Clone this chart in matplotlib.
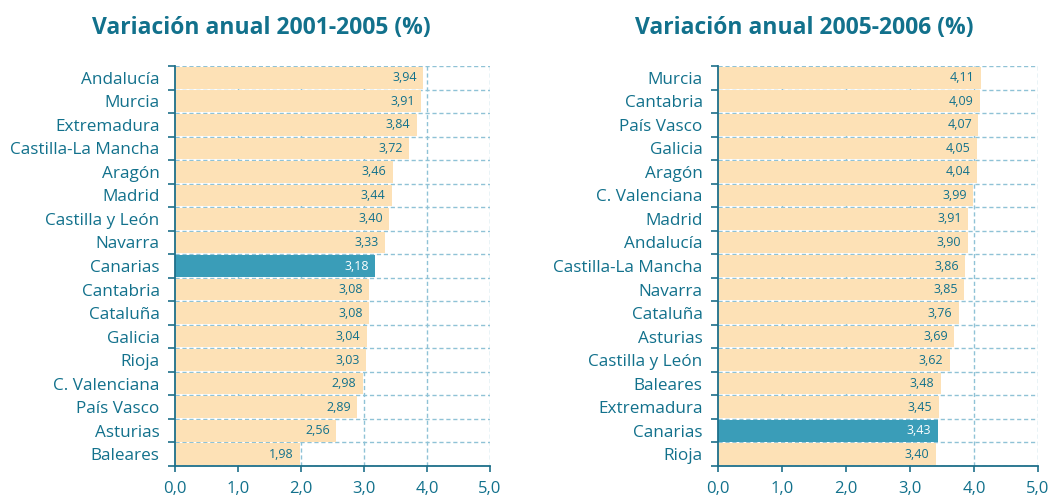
import matplotlib
matplotlib.use("Agg")
import matplotlib.pyplot as plt
import numpy as np

cats1 = ["Andalucía", "Murcia", "Extremadura", "Castilla-La Mancha", "Aragón", "Madrid",
         "Castilla y León", "Navarra", "Canarias", "Cantabria", "Cataluña", "Galicia",
         "Rioja", "C. Valenciana", "País Vasco", "Asturias", "Baleares"]
vals1 = [3.94, 3.91, 3.84, 3.72, 3.46, 3.44, 3.40, 3.33, 3.18, 3.08, 3.08, 3.04,
         3.03, 2.98, 2.89, 2.56, 1.98]
cats2 = ["Murcia", "Cantabria", "País Vasco", "Galicia", "Aragón", "C. Valenciana", "Madrid",
         "Andalucía", "Castilla-La Mancha", "Navarra", "Cataluña", "Asturias",
         "Castilla y León", "Baleares", "Extremadura", "Canarias", "Rioja"]
vals2 = [4.11, 4.09, 4.07, 4.05, 4.04, 3.99, 3.91, 3.90, 3.86, 3.85, 3.76, 3.69,
         3.62, 3.48, 3.45, 3.43, 3.40]
titles = ["Variación anual 2001-2005 (%)", "Variación anual 2005-2006 (%)"]
xticks = [0, 1, 2, 3, 4, 5]
highlight = "Canarias"

PEACH = "#FDE1B6"
HL = "#3A9DB8"
TEXT = "#12718C"
GRID = "#8FC2D6"
SPINE = "#1E6F8A"

plt.rcParams['font.family'] = ['Open Sans', 'DejaVu Sans']

fig = plt.figure(figsize=(10.49, 4.98), dpi=100)
H = 498.0
W = 1049.0
top_px, bot_px = 66, 466
axes_px = [(175, 490), (718, 1038)]
title_x = [261, 804]

for (l, r), cats, vals, title, tx in zip(axes_px, [cats1, cats2], [vals1, vals2], titles, title_x):
    ax = fig.add_axes([l / W, 1 - bot_px / H, (r - l) / W, (bot_px - top_px) / H])
    n = len(cats)
    y = np.arange(n)
    colors = [HL if c == highlight else PEACH for c in cats]
    ax.barh(y, vals, height=0.92, color=colors, zorder=2)
    ax.set_ylim(n - 0.5, -0.5)
    ax.set_xlim(0, 5)
    # gridlines
    for b in np.arange(-0.5, n, 1.0):
        ax.axhline(b, color=GRID, lw=1.0, ls=(0, (3, 2)), zorder=1)
    for xv in xticks[1:]:
        ax.axvline(xv, color=GRID, lw=1.0, ls=(0, (3, 2)), zorder=1)
    for s in ["top", "right"]:
        ax.spines[s].set_visible(False)
    for s in ["left", "bottom"]:
        ax.spines[s].set_color(SPINE)
        ax.spines[s].set_linewidth(1.3)
        ax.spines[s].set_zorder(3)
    ax.set_xticks(xticks)
    ax.set_xticklabels([f"{v:.1f}".replace(".", ",") for v in xticks])
    ax.tick_params(axis="x", colors=SPINE, labelcolor=TEXT, labelsize=12, length=4, width=1.2, pad=7)
    ax.set_yticks(y)
    ax.set_yticklabels(cats)
    ax.tick_params(axis="y", length=0, labelcolor=TEXT, labelsize=12.3, pad=11)
    ax.set_yticks(np.arange(-0.5, n, 1.0), minor=True)
    ax.tick_params(axis="y", which="minor", length=5, width=1.2, colors=SPINE)
    for yi, v, c in zip(y, vals, cats):
        ax.text(v - 0.1, yi, f"{v:.2f}".replace(".", ","), ha="right", va="center",
                fontsize=9, color="white" if c == highlight else TEXT, zorder=4)
    fig.text(tx / W, 1 - 28 / H, title, ha="center", va="center", fontsize=16.5,
             fontweight="bold", color=TEXT)

fig.savefig("out.png", dpi=100)
